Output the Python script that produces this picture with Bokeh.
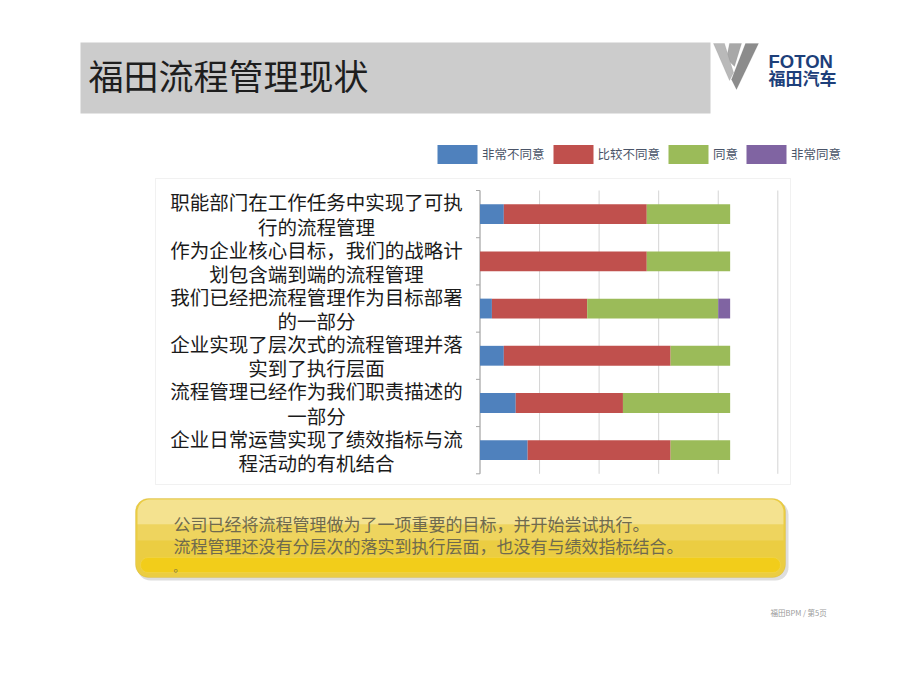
from bokeh.plotting import figure
from bokeh.models import (ColumnDataSource, Range1d, Label, BoxAnnotation, PolyAnnotation,
                          Legend, LegendItem)
from bokeh.core.properties import value
from bokeh.embed import file_html
from bokeh.resources import INLINE

# ---------------- data ----------------
questions = [
    "职能部门在工作任务中实现了可执\n行的流程管理",
    "作为企业核心目标，我们的战略计\n划包含端到端的流程管理",
    "我们已经把流程管理作为目标部署\n的一部分",
    "企业实现了层次式的流程管理并落\n实到了执行层面",
    "流程管理已经作为我们职责描述的\n一部分",
    "企业日常运营实现了绩效指标与流\n程活动的有机结合",
]
strongly_disagree = [2, 0, 1, 2, 3, 4]
disagree = [12, 14, 8, 14, 9, 12]
agree = [7, 7, 11, 5, 9, 5]
strongly_agree = [0, 0, 1, 0, 0, 0]
series_labels = ["非常不同意", "比较不同意", "同意", "非常同意"]
series_colors = ["#4f81bd", "#c0504d", "#9bbb59", "#8064a2"]
x_ticks = [0, 5, 10, 15, 20, 25]
title_text = "福田流程管理现状"
note_lines = ["公司已经将流程管理做为了一项重要的目标，并开始尝试执行。",
              "流程管理还没有分层次的落实到执行层面，也没有与绩效指标结合。"]
note_tail = "。"
footer_text = "福田BPM / 第5页"

CJK = "Noto Sans CJK SC"
n = len(questions)
pos = [n - i - 0.5 for i in range(n)]
edges = list(range(n + 1))
src = ColumnDataSource(dict(q=questions, pos=pos, sd=strongly_disagree, d=disagree,
                            a=agree, sa=strongly_agree))

# ---------------- layout (picture pixels) ----------------
W, H = 904, 674
PL, PR, PT, PB = 479.5, 777.3, 190.0, 473.3     # bar plot area
kx = (PR - PL) / (x_ticks[-1] - x_ticks[0])
ky = (PB - PT) / n

p = figure(width=W, height=H, output_backend="svg", toolbar_location=None,
           x_range=Range1d(0, W), y_range=Range1d(H, 0),
           x_axis_location=None, y_axis_location=None, min_border=0)
p.extra_x_ranges = {"cnt": Range1d(x_ticks[0] - PL / kx, x_ticks[-1] + (W - PR) / kx)}
p.extra_y_ranges = {"row": Range1d(0 - (H - PB) / ky, n + PT / ky)}
p.outline_line_color = None
p.background_fill_color = "white"
p.border_fill_color = "white"
p.xgrid.visible = False
p.ygrid.visible = False


def box(l, t, r, b, **kw):
    return BoxAnnotation(left=l, right=r, top=t, bottom=b, **kw)


# background decorations
p.add_layout(box(80, 42, 710, 113, fill_color="#cccccc", fill_alpha=1, line_color=None))
p.add_layout(box(155, 178, 790, 484, fill_alpha=0, line_color="#cfcfcf", line_width=1))

# yellow note box
p.add_layout(box(137, 501, 788, 580, fill_color="#c8c8c8", fill_alpha=0.6, line_color=None, border_radius=13))
p.add_layout(box(135, 498, 785, 577, fill_color="#ebcd42", fill_alpha=1, line_color="#d2b43c", border_radius=13))
p.add_layout(box(137, 499, 783, 524, fill_color="#f6e59c", fill_alpha=0.85, line_color=None, border_radius=(12, 12, 0, 0)))
p.add_layout(box(137, 524, 783, 540, fill_color="#f1dc7a", fill_alpha=0.5, line_color=None))
p.add_layout(box(140, 557, 780, 572, fill_color="#f2cd1a", fill_alpha=1, line_color="#f6dd6a", border_radius=8))

# grid lines and y axis (in data units of the bar chart)
p.segment(x0=x_ticks, x1=x_ticks, y0=edges[0], y1=edges[-1], x_range_name="cnt", y_range_name="row",
          line_color="#d4d4d4", line_width=1)
p.segment(x0=x_ticks[0], x1=x_ticks[0], y0=edges[0], y1=edges[-1], x_range_name="cnt", y_range_name="row",
          line_color="#a6a6a6", line_width=1)
p.segment(x0=x_ticks[0] - 4 / kx, x1=x_ticks[0], y0=edges, y1=edges, x_range_name="cnt", y_range_name="row",
          line_color="#a6a6a6", line_width=1)

# bars
renderers = p.hbar_stack(["sd", "d", "a", "sa"], y="pos", height=0.42, color=series_colors,
                         line_color=None, source=src, x_range_name="cnt", y_range_name="row")

# category labels
p.text(x=316, y="pos", text="q", source=src, y_range_name="row",
       text_align="center", text_baseline="middle", text_font_size="19.5px",
       text_font=value(CJK), text_color="#1a1a1a", text_line_height=0.84)

# legend
legend = Legend(items=[LegendItem(label=l, renderers=[r]) for l, r in zip(series_labels, renderers)],
                orientation="horizontal", location=(432, H - 165.5),
                glyph_width=50, glyph_height=24, label_standoff=0, spacing=3,
                padding=0, margin=0, border_line_color=None, background_fill_alpha=0,
                label_text_font=CJK, label_text_font_size="12.5px", label_text_color="#4a5468",
                label_height=24)
p.add_layout(legend)

# title
p.add_layout(Label(x=88, y=74, text=title_text,
                   text_font=CJK, text_font_size="35px", text_baseline="middle", text_color="#1e1e1e"))

# logo
logo_parts = [
    ([745, 758, 736, 731], [43, 43, 89, 79], "#8c8c8c"),
    ([729, 741, 734, 726], [43, 43, 66, 58], "#a8a8a8"),
    ([713, 724, 733, 729], [43, 43, 72, 80], "#b9b9b9"),
]
for xs, ys, col in logo_parts:
    p.add_layout(PolyAnnotation(xs=xs, ys=ys, fill_color=col, fill_alpha=1,
                                line_color="#6e6e6e", line_width=0.5))
p.add_layout(Label(x=768, y=61, text="FOTON",
                   text_font="Liberation Sans", text_font_style="bold", text_font_size="18.5px",
                   text_baseline="middle", text_color="#1d3f7a"))
p.add_layout(Label(x=768, y=77, text="福田汽车",
                   text_font=CJK, text_font_style="bold", text_font_size="17px",
                   text_baseline="middle", text_color="#1d3f7a"))

# note texts
for i, line in enumerate(note_lines):
    p.add_layout(Label(x=173, y=523 + 22 * i, text=line,
                       text_font=CJK, text_font_size="17px", text_baseline="middle", text_color="#6f6a4e"))
p.add_layout(Label(x=173, y=566, text=note_tail,
                   text_font=CJK, text_font_size="11px", text_baseline="middle", text_color="#6f6a4e"))

# footer
p.add_layout(Label(x=770, y=612, text=footer_text,
                   text_font=CJK, text_font_size="7.5px", text_baseline="middle", text_color="#9a9a9a"))

open("out.html", "w").write(file_html(p, INLINE))
